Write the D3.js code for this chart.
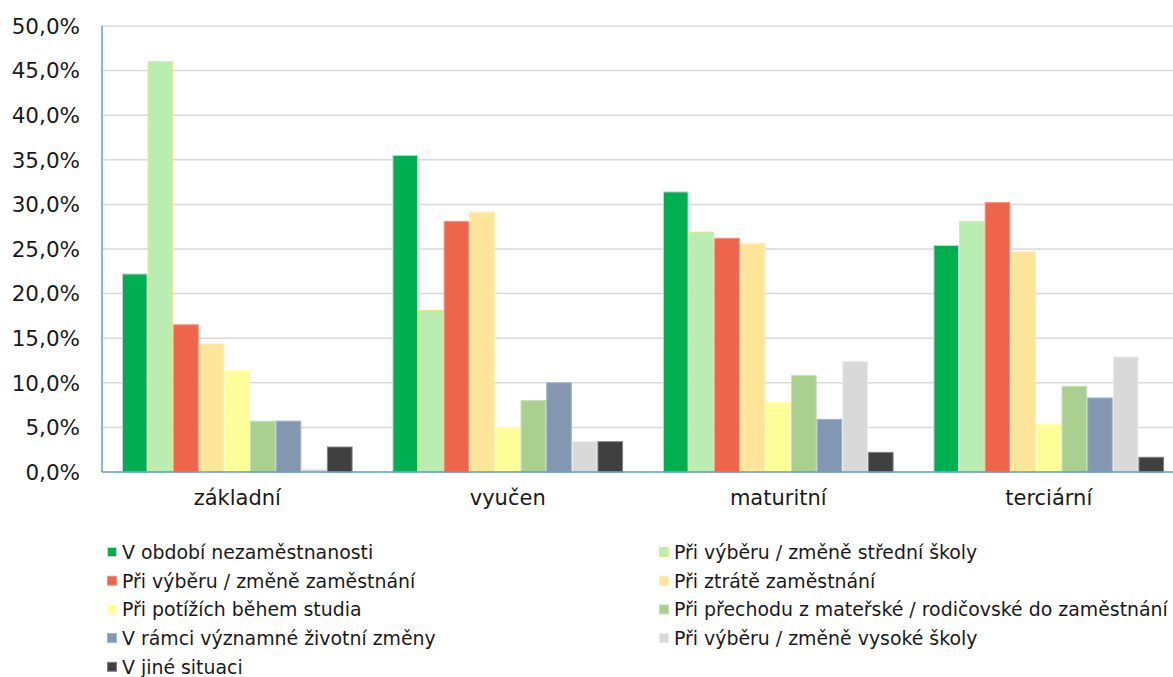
<!DOCTYPE html>
<html><head><meta charset="utf-8">
<script src="https://cdn.jsdelivr.net/npm/d3@7"></script>
<style>body{margin:0;background:#fff}svg{display:block}text{font-family:"DejaVu Sans",Verdana,sans-serif;fill:#1a1a1a}</style>
</head><body><svg id="c" width="1173" height="677"></svg>
<script>
const categories = ["základní","vyučen","maturitní","terciární"];
const seriesNames = [
  "V období nezaměstnanosti",
  "Při výběru / změně střední školy",
  "Při výběru / změně zaměstnání",
  "Při ztrátě zaměstnání",
  "Při potížích během studia",
  "Při přechodu z mateřské / rodičovské do zaměstnání",
  "V rámci významné životní změny",
  "Při výběru / změně vysoké školy",
  "V jiné situaci"
];
// values in % per series, order of categories
const sObdobiNezam   = [22.2, 35.5, 31.4, 25.4];
const sStredniSkola  = [46.0, 18.1, 26.9, 28.1];
const sVyberZam      = [16.5, 28.1, 26.2, 30.2];
const sZtrataZam     = [14.35, 29.1, 25.6, 24.7];
const sPotizeStudia  = [11.4, 5.0, 7.85, 5.4];
const sMaterska      = [5.7, 8.0, 10.8, 9.6];
const sZivotniZmena  = [5.7, 10.0, 5.9, 8.3];
const sVysokaSkola   = [0.3, 3.4, 12.4, 12.9];
const sJina          = [2.8, 3.4, 2.2, 1.65];
const seriesValues = [sObdobiNezam, sStredniSkola, sVyberZam, sZtrataZam, sPotizeStudia, sMaterska, sZivotniZmena, sVysokaSkola, sJina];
const yTicks = [0,5,10,15,20,25,30,35,40,45,50];

const fills   = ["#00B050","#B9EDB1","#EE654C","#FFE599","#FFFF99","#A9D08E","#8497B0","#D9D9D9","#404040"];
const strokes = ["#CAD3E0","#EAE688","#F3917F","#FFEDB5","#FFFFC0","#C3E0AF","#A3B2C6","#EBEBEB","#808080"];

const svg = d3.select("#c");
const L = 102, T = 26, B = 472, R = 1184;
const y = d3.scaleLinear().domain([0,50]).range([B,T]);
const x0 = d3.scaleBand().domain(categories).range([L,R]).paddingInner(0).paddingOuter(0);
const x1 = d3.scaleBand().domain(d3.range(seriesNames.length)).range([0,x0.bandwidth()]).paddingInner(0).paddingOuter(0.777);

// gridlines
svg.append("g").selectAll("line").data(yTicks.filter(d=>d>0)).join("line")
  .attr("x1",L).attr("x2",R).attr("y1",d=>y(d)).attr("y2",d=>y(d))
  .attr("stroke","#D9D9D9").attr("stroke-width",1.5);

// y labels
const fmt = d => d.toFixed(1).replace(".",",")+"%";
svg.append("g").selectAll("text").data(yTicks).join("text")
  .attr("x",80).attr("y",d=>y(d)).attr("dy","0.36em").attr("text-anchor","end")
  .style("font-size","21.5px").text(fmt);

// bars
const data = [];
categories.forEach((c,ci)=>seriesValues.forEach((s,si)=>data.push({c,si,v:s[ci]})));
svg.append("g").selectAll("rect").data(data).join("rect")
  .attr("x",d=>x0(d.c)+x1(d.si)+0.5).attr("width",x1.bandwidth()-1)
  .attr("y",d=>y(d.v)).attr("height",d=>B-y(d.v))
  .attr("fill",d=>fills[d.si]).attr("stroke",d=>strokes[d.si]).attr("stroke-width",1);

// axes lines
svg.append("line").attr("x1",L).attr("x2",L).attr("y1",T).attr("y2",B).attr("stroke","#5B9BD5").attr("stroke-width",1.5);
svg.append("line").attr("x1",L).attr("x2",R).attr("y1",B).attr("y2",B).attr("stroke","#5B9BD5").attr("stroke-width",1.5);

// category labels
svg.append("g").selectAll("text").data(categories).join("text")
  .attr("x",d=>x0(d)+x0.bandwidth()/2).attr("y",505).attr("text-anchor","middle")
  .style("font-size","21px").text(d=>d);

// legend
const lg = svg.append("g").selectAll("g").data(seriesNames).join("g")
  .attr("transform",(d,i)=>`translate(${i%2===0?107:659},${552+Math.floor(i/2)*28.7})`);
lg.append("rect").attr("x",0.5).attr("y",-4.5).attr("width",9).attr("height",9)
  .attr("fill",(d,i)=>fills[i]).attr("stroke",(d,i)=>strokes[i]).attr("stroke-width",1);
lg.append("text").attr("x",15).attr("y",0).attr("dy","0.36em").style("font-size","18.9px").text(d=>d);
</script></body></html>
